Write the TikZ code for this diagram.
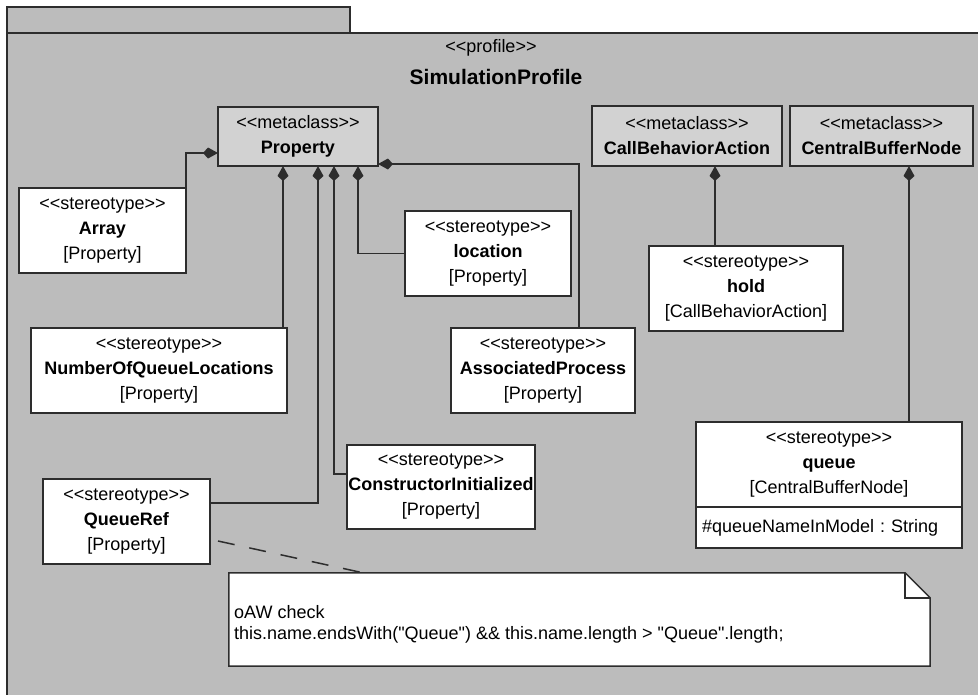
\documentclass[tikz,border=0pt]{standalone}
\usepackage{fontspec}
\usepackage{tikz}
\usetikzlibrary{arrows.meta,calc,positioning}
\newfontfamily\umlfont{Liberation Sans}
\definecolor{fondpaquet}{RGB}{188,188,188}
\definecolor{fondmeta}{RGB}{210,210,210}
\definecolor{trait}{RGB}{45,45,45}
\newcommand{\ster}[1]{<{}<#1>{}>}

\begin{document}
\begin{tikzpicture}[x=1pt, y=-1pt,
		boite/.style={draw=trait, line width=1.5pt, fill=white, align=center, inner sep=0pt, outer sep=0pt, font=\umlfont\frenchspacing\fontsize{18}{25}\selectfont},
		meta/.style={boite, fill=fondmeta, minimum height=60pt},
		stereo/.style={boite, minimum height=85pt},
		ext/.style={draw=trait, line width=1.5pt, -{Kite[length=15pt, width=11pt, inset=5pt]}}, % extension
		]
		\useasboundingbox (0,0) rectangle (978,694);
		\fill[white] (0,0) rectangle (978,694);
		
		% Le paquet
		\draw[draw=trait, line width=1.5pt, fill=fondpaquet] (7,7) rectangle (350,33);
		\draw[draw=trait, line width=1.5pt, fill=fondpaquet] (7,33) rectangle (1000,720);
		\node[font=\umlfont\fontsize{18}{22}\selectfont] (stprofil) at (491,48) {\ster{profile}};
		\node[font=\umlfont\bfseries\fontsize{21}{25}\selectfont] (profil) at (496,77) {SimulationProfile};
		
		% Les métaclasses
		\node[meta, minimum width=160pt, minimum height=59pt] (prop) at (298,136.5) {\ster{metaclass}\\\textbf{Property}};
		\node[meta, minimum width=190pt] (cba) at (687,136) {\ster{metaclass}\\\textbf{CallBehaviorAction}};
		\node[meta, minimum width=183pt] (cbn) at (881.5,136) {\ster{metaclass}\\\textbf{CentralBufferNode}};
		
		% Les stéréotypes
		\node[stereo, minimum width=167pt] (array) at (102.5,230.5) {\ster{stereotype}\\\textbf{Array}\\{[Property]}};
		\node[stereo, minimum width=166pt] (loc) at (488,253.5) {\ster{stereotype}\\\textbf{location}\\{[Property]}};
		\node[stereo, minimum width=194pt] (hold) at (746,288.5) {\ster{stereotype}\\\textbf{hold}\\{[CallBehaviorAction]}};
		\node[stereo, minimum width=256pt] (noql) at (159,370.5) {\ster{stereotype}\\\textbf{NumberOfQueueLocations}\\{[Property]}};
		\node[stereo, minimum width=184pt] (assoc) at (543,370.5) {\ster{stereotype}\\\textbf{AssociatedProcess}\\{[Property]}};
		\node[stereo, minimum width=188pt, minimum height=84pt] (ctor) at (441,487) {\ster{stereotype}\\\textbf{ConstructorInitialized}\\{[Property]}};
		\node[stereo, minimum width=167pt] (qref) at (126.5,521.5) {\ster{stereotype}\\\textbf{QueueRef}\\{[Property]}};
		\node[stereo, minimum width=266pt] (queue) at (829,464.5) {\ster{stereotype}\\\textbf{queue}\\{[CentralBufferNode]}};
		\node[boite, anchor=north, minimum width=266pt, minimum height=41pt, text width=254pt, inner xsep=6pt, align=left] (queueattr) at (queue.south) {\#queueNameInModel : String};
		
		% La note
		\node[minimum width=701pt, minimum height=93pt] (note) at (579.5,619.5) {};
		\draw[draw=trait, line width=1.5pt, fill=white, line join=miter] (note.north west) -- ([xshift=-25pt]note.north east) -- ([yshift=-25pt]note.north east) -- (note.south east) -- (note.south west) -- cycle;
		\draw[draw=trait, line width=1.5pt] ([xshift=-25pt]note.north east) |- ([yshift=-25pt]note.north east);
		\node[anchor=west, align=left, inner sep=0pt, font=\umlfont\fontsize{18}{21}\selectfont] (notetexte) at (234,624.5) {oAW check\\this.name.endsWith("Queue") \&\& this.name.length > "Queue".length;};
		
		% Les extensions
		\draw[ext] (array.north east) |- ([yshift=-16.5pt]prop.west);
		\draw[ext] (loc.west) -| ([xshift=60pt]prop.south);
		\draw[ext] ([xshift=36pt]assoc.north) |- ([yshift=-27.5pt]prop.east);
		\draw[ext] ([xshift=-15pt]prop.south |- noql.north) -- ([xshift=-15pt]prop.south);
		\draw[ext] ([yshift=18.5pt]qref.east) -| ([xshift=20pt]prop.south);
		\draw[ext] ([yshift=13pt]ctor.west) -| ([xshift=36pt]prop.south);
		\draw[ext] ([xshift=-31pt]hold.north) -- ([xshift=-31pt]hold.north |- cba.south);
		\draw[ext] ([xshift=80pt]queue.north) -- ([xshift=80pt]queue.north |- cbn.south);
		
		% Lien vers la note
		\draw[draw=trait, line width=1.5pt, dash pattern=on 17pt off 15pt] ([xshift=8pt,yshift=-19.5pt]qref.east) -- ([xshift=-216.5pt]note.north);
	\end{tikzpicture}
\end{document}
